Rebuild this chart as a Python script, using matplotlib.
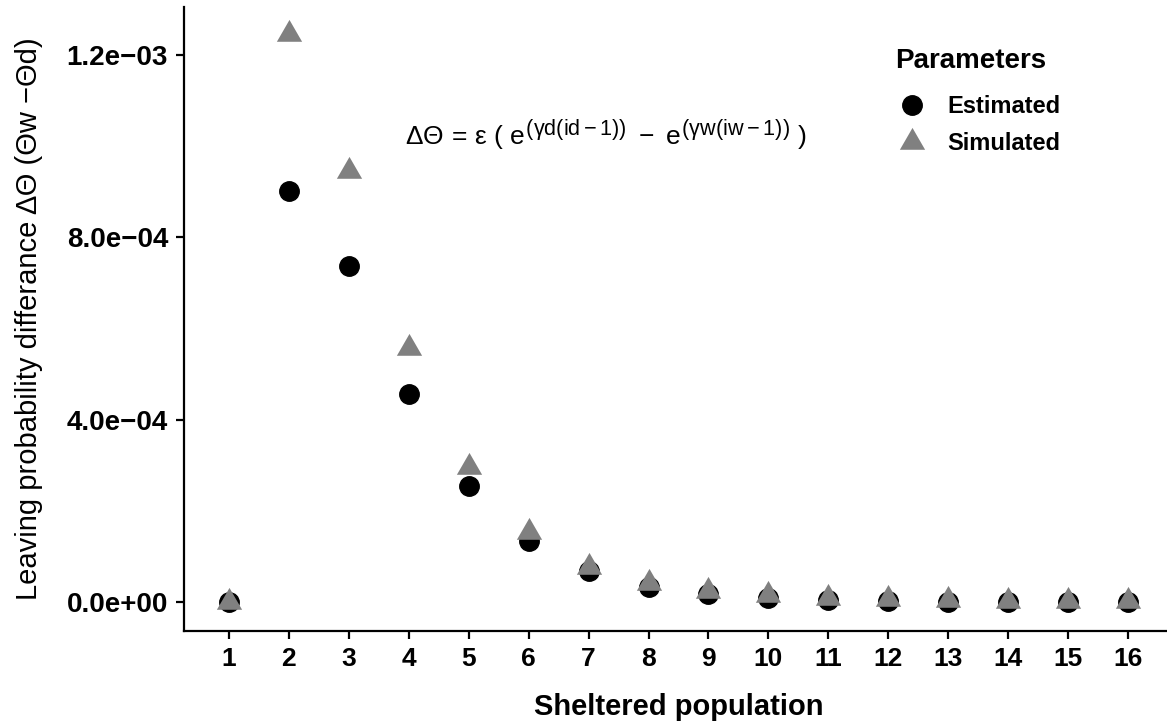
import matplotlib
matplotlib.use("Agg")
import matplotlib.pyplot as plt
import matplotlib._mathtext as mt
import numpy as np

plt.rcParams["font.family"] = ["Liberation Sans", "DejaVu Sans"]
plt.rcParams["mathtext.fontset"] = "custom"
plt.rcParams["mathtext.rm"] = "Liberation Sans"
plt.rcParams["mathtext.it"] = "Liberation Sans"
plt.rcParams["mathtext.bf"] = "Liberation Sans:bold"
mt.SHRINK_FACTOR = 0.82  # bigger exponents, closer to the R plotmath look

# sheltered population (1..16) and leaving probability difference
population = list(range(1, 17))
estimated = [0.0, 0.901e-3, 0.737e-3, 0.456e-3, 0.254e-3, 0.134e-3, 0.068e-3, 0.033e-3,
             0.018e-3, 0.009e-3, 0.004e-3, 0.002e-3, 0.001e-3, 0.0005e-3, 0.0003e-3, 0.0001e-3]
simulated = [0.0, 1.246e-3, 0.945e-3, 0.557e-3, 0.296e-3, 0.154e-3, 0.077e-3, 0.042e-3,
             0.024e-3, 0.015e-3, 0.009e-3, 0.006e-3, 0.004e-3, 0.003e-3, 0.002e-3, 0.0015e-3]
yticks = [0.0, 4.0e-4, 8.0e-4, 1.2e-3]
ytick_labels = ["0.0e+00", "4.0e\u221204", "8.0e\u221204", "1.2e\u221203"]

W, H = 1167, 725
fig = plt.figure(figsize=(W / 100, H / 100), dpi=100)
# axes: left spine at x=184, top 7, bottom 631, right runs past the figure edge
ax = fig.add_axes([184 / W, 1 - 631 / H, (1173 - 184) / W, (631 - 7) / H])

tri = [(-1, -0.577), (1, -0.577), (0, 1.155)]
ax.plot(population, estimated, ls="none", marker="o", ms=14, color="black",
        mec="black", label="Estimated")
ax.plot(population, simulated, ls="none", marker=tri, ms=21, color="#808080",
        mec="#808080", mew=0, label="Simulated")

ax.set_xlim(0.25, 16.75)
ax.set_ylim(-0.0636e-3, 1.305e-3)
ax.set_xticks(population)
ax.set_xticklabels([str(p) for p in population], fontsize=19, fontweight="bold")
ax.set_yticks(yticks)
ax.set_yticklabels(ytick_labels, fontsize=20, fontweight="bold")
ax.tick_params(direction="out", length=5.5, width=1.6, color="black", pad=6)

for s in ["top", "right"]:
    ax.spines[s].set_visible(False)
for s in ["left", "bottom"]:
    ax.spines[s].set_linewidth(1.6)

ax.set_xlabel("Sheltered population", fontsize=21, fontweight="bold", labelpad=16)
ax.set_ylabel("Leaving probability differance \u0394\u0398 (\u0398w \u2212\u0398d)", fontsize=21,
              labelpad=17)

ax.text(7.29, 1.002e-3,
        r"$\Delta\Theta\,=\,\epsilon\ (\ e^{(\gamma d(id-1))}\ -\ e^{(\gamma w(iw-1))}\ )$",
        fontsize=19, ha="center", va="baseline")

leg = ax.legend(loc="upper left", bbox_to_anchor=(874 / W, 1 - 27 / H),
                bbox_transform=fig.transFigure, frameon=False, title="Parameters",
                prop={"weight": "bold", "size": 17}, labelspacing=0.61,
                handletextpad=0.76, handlelength=1.44, alignment="left")
leg.get_title().set_fontsize(20)
leg.get_title().set_fontweight("bold")
leg._legend_box.sep = 15  # a bit more room under the title

fig.savefig("out.png", dpi=100)
